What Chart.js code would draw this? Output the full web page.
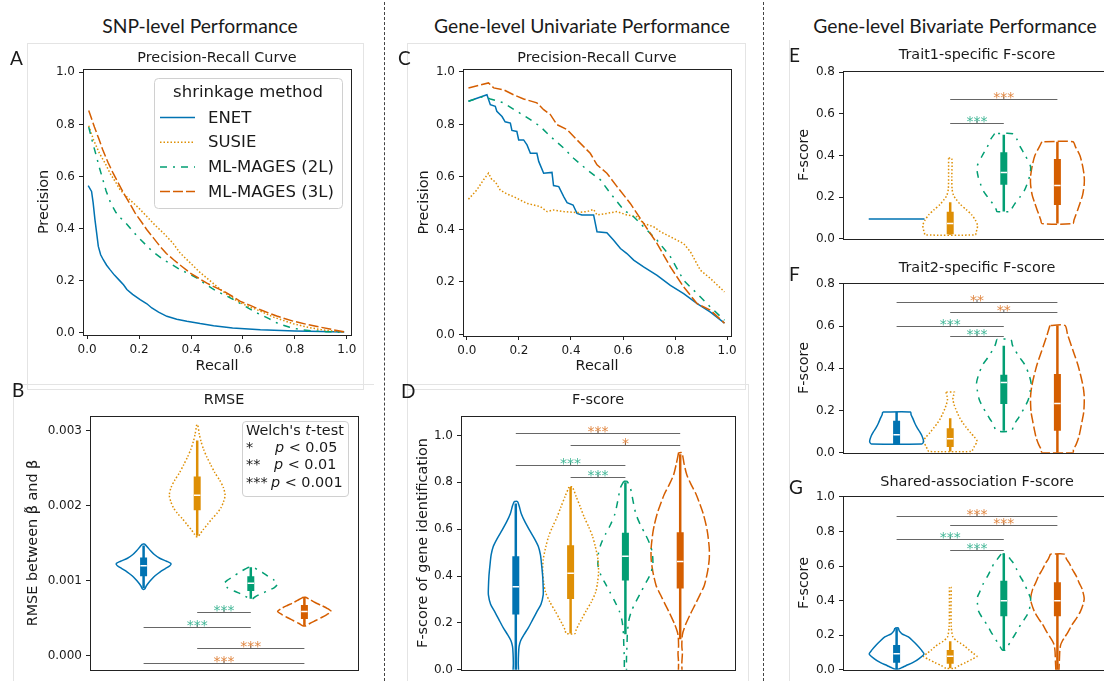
<!DOCTYPE html>
<html>
<head>
<meta charset="utf-8">
<script src="https://cdn.jsdelivr.net/npm/chart.js@4.4.1/dist/chart.umd.min.js"></script>
<style>
  body { margin: 0; width: 1104px; height: 681px; overflow: hidden; background: #fff; position: relative; font-family: 'DejaVu Sans', sans-serif; color: #1a1a1a; }
  canvas { position: absolute; }
  .t { position: absolute; white-space: nowrap; }
  .head { font-family: Lato, 'Open Sans', sans-serif; font-size: 19.3px; width: 400px; text-align: center; line-height: 26px; }
  .title { font-size: 14.4px; width: 300px; text-align: center; line-height: 18px; }
  .letter { font-family: Lato, 'Open Sans', sans-serif; font-size: 19px; line-height: 22px; }
  .sep { position: absolute; top: 2px; height: 679px; border-left: 1px dashed #444; }
  .frame { position: absolute; border: 1px solid #e4e4e4; }
  .leg { font-size: 14.4px; line-height: 17px; }
</style>
</head>
<body>

<div class="sep" style="left:384px"></div>
<div class="sep" style="left:763px"></div>

<div class="frame" style="left:27px;top:43px;width:335px;height:345px;"></div>
<div class="frame" style="left:13px;top:384px;width:360px;height:320px;border-right:none"></div>
<div class="frame" style="left:407px;top:43px;width:337px;height:345px;"></div>
<div class="frame" style="left:407px;top:384px;width:340px;height:320px;"></div>
<div class="frame" style="left:789px;top:40px;width:340px;height:660px;border-top:none"></div>

<div class="t head" style="left:0px;top:13px">SNP-level Performance</div>
<div class="t head" style="left:382px;top:13px">Gene-level Univariate Performance</div>
<div class="t head" style="left:755px;top:13px">Gene-level Bivariate Performance</div>

<canvas id="cA"></canvas>
<canvas id="cB"></canvas>
<canvas id="cC"></canvas>
<canvas id="cD"></canvas>
<canvas id="cE"></canvas>
<canvas id="cF"></canvas>
<canvas id="cG"></canvas>

<div class="t letter" style="left:10px;top:47px">A</div>
<div class="t letter" style="left:12px;top:379px">B</div>
<div class="t letter" style="left:398px;top:47px">C</div>
<div class="t letter" style="left:401px;top:380px">D</div>
<div class="t letter" style="left:789px;top:44px">E</div>
<div class="t letter" style="left:789px;top:263px">F</div>
<div class="t letter" style="left:789px;top:476px">G</div>

<div class="t title" style="left:67px;top:48px">Precision-Recall Curve</div>
<div class="t title" style="left:74px;top:390px">RMSE</div>
<div class="t title" style="left:447px;top:48px">Precision-Recall Curve</div>
<div class="t title" style="left:448px;top:390px">F-score</div>
<div class="t title" style="left:827px;top:45px">Trait1-specific F-score</div>
<div class="t title" style="left:827px;top:258px">Trait2-specific F-score</div>
<div class="t title" style="left:827px;top:472px">Shared-association F-score</div>

<div class="frame" style="left:242px;top:421px;width:105px;height:74px;border-color:#d0d0d0;border-radius:4px;background:rgba(255,255,255,0.8)"></div>
<div class="t leg" style="left:246px;top:422px">Welch's <i>t</i>-test</div>
<div class="t leg" style="left:246px;top:439px">*</div>
<div class="t leg" style="left:275px;top:439px"><i>p</i> &lt; 0.05</div>
<div class="t leg" style="left:246px;top:456px">**</div>
<div class="t leg" style="left:274px;top:456px"><i>p</i> &lt; 0.01</div>
<div class="t leg" style="left:246px;top:474px">***</div>
<div class="t leg" style="left:271px;top:474px"><i>p</i> &lt; 0.001</div>

<script>
// methods and styling
const methods = ['ENET', 'SUSIE', 'ML-MAGES (2L)', 'ML-MAGES (3L)'];
const legendTitle = 'shrinkage method';
const COLORS = ['#0173b2', '#de8f05', '#029e73', '#d55e00'];
const DASHES = [[], [1.5, 2], [7, 6, 2, 6], [10, 3]];
const STAR_COLORS = { g: 'rgba(2,158,115,0.75)', o: 'rgba(213,94,0,0.75)' };

// Panel A: SNP-level precision-recall
const snpEnetRecall = [0.004, 0.017, 0.023, 0.03, 0.037, 0.043, 0.052, 0.062, 0.075, 0.088, 0.105, 0.127, 0.14, 0.153, 0.175, 0.204, 0.23, 0.249, 0.275, 0.307, 0.345, 0.384, 0.435, 0.487, 0.56, 0.667, 0.8, 0.9, 0.99];
const snpEnetPrecision = [0.565, 0.543, 0.5, 0.435, 0.38, 0.332, 0.3, 0.281, 0.26, 0.243, 0.222, 0.199, 0.185, 0.167, 0.148, 0.128, 0.112, 0.096, 0.08, 0.064, 0.053, 0.045, 0.036, 0.028, 0.019, 0.012, 0.008, 0.006, 0.004];
const snpSusieRecall = [0.006, 0.025, 0.047, 0.07, 0.088, 0.11, 0.127, 0.15, 0.165, 0.2, 0.23, 0.26, 0.294, 0.33, 0.358, 0.4, 0.436, 0.48, 0.513, 0.55, 0.59, 0.63, 0.667, 0.72, 0.795, 0.85, 0.9, 0.95, 0.99];
const snpSusiePrecision = [0.795, 0.74, 0.69, 0.65, 0.613, 0.578, 0.549, 0.525, 0.511, 0.478, 0.447, 0.415, 0.383, 0.345, 0.307, 0.266, 0.231, 0.195, 0.167, 0.14, 0.116, 0.098, 0.084, 0.06, 0.035, 0.022, 0.013, 0.007, 0.003];
const snp2lRecall = [0.006, 0.021, 0.035, 0.047, 0.06, 0.073, 0.09, 0.111, 0.13, 0.153, 0.18, 0.211, 0.249, 0.294, 0.33, 0.358, 0.39, 0.423, 0.455, 0.487, 0.52, 0.551, 0.6, 0.654, 0.7, 0.74, 0.78, 0.82, 0.87, 0.92, 0.99];
const snp2lPrecision = [0.79, 0.731, 0.68, 0.635, 0.59, 0.545, 0.5, 0.462, 0.44, 0.417, 0.385, 0.353, 0.315, 0.281, 0.26, 0.243, 0.228, 0.211, 0.188, 0.167, 0.15, 0.135, 0.107, 0.077, 0.055, 0.034, 0.022, 0.013, 0.008, 0.005, 0.003];
const snp3lRecall = [0.006, 0.028, 0.045, 0.06, 0.08, 0.1, 0.12, 0.14, 0.165, 0.185, 0.21, 0.23, 0.255, 0.281, 0.305, 0.333, 0.365, 0.397, 0.43, 0.461, 0.5, 0.526, 0.56, 0.59, 0.63, 0.667, 0.73, 0.795, 0.85, 0.9, 0.95, 0.99];
const snp3lPrecision = [0.854, 0.79, 0.745, 0.703, 0.655, 0.613, 0.575, 0.537, 0.495, 0.46, 0.425, 0.396, 0.365, 0.332, 0.305, 0.281, 0.255, 0.23, 0.21, 0.191, 0.172, 0.16, 0.14, 0.121, 0.105, 0.089, 0.065, 0.045, 0.032, 0.022, 0.012, 0.005];

// Panel C: gene-level precision-recall
const geneEnetRecall = [0.006, 0.077, 0.09, 0.109, 0.115, 0.135, 0.147, 0.167, 0.173, 0.192, 0.199, 0.218, 0.231, 0.244, 0.269, 0.276, 0.295, 0.327, 0.333, 0.353, 0.372, 0.385, 0.408, 0.423, 0.442, 0.487, 0.5, 0.538, 0.564, 0.59, 0.615, 0.641, 0.679, 0.731, 0.782, 0.833, 0.885, 0.936, 0.99];
const geneEnetPrecision = [0.888, 0.913, 0.875, 0.869, 0.85, 0.83, 0.81, 0.805, 0.777, 0.773, 0.741, 0.741, 0.722, 0.69, 0.69, 0.659, 0.614, 0.617, 0.567, 0.563, 0.525, 0.502, 0.493, 0.461, 0.455, 0.455, 0.391, 0.387, 0.359, 0.327, 0.308, 0.283, 0.257, 0.225, 0.187, 0.155, 0.117, 0.085, 0.043];
const geneSusieRecall = [0.006, 0.038, 0.064, 0.083, 0.096, 0.109, 0.128, 0.154, 0.179, 0.205, 0.231, 0.256, 0.282, 0.308, 0.333, 0.372, 0.423, 0.462, 0.487, 0.5, 0.538, 0.577, 0.615, 0.654, 0.679, 0.718, 0.744, 0.782, 0.833, 0.859, 0.897, 0.936, 0.99];
const geneSusiePrecision = [0.515, 0.55, 0.589, 0.614, 0.589, 0.582, 0.55, 0.535, 0.525, 0.512, 0.499, 0.493, 0.487, 0.468, 0.474, 0.468, 0.464, 0.468, 0.476, 0.455, 0.461, 0.468, 0.455, 0.448, 0.423, 0.41, 0.391, 0.372, 0.346, 0.315, 0.245, 0.213, 0.162];
const gene2lRecall = [0.006, 0.064, 0.09, 0.141, 0.192, 0.244, 0.282, 0.321, 0.372, 0.41, 0.462, 0.513, 0.551, 0.603, 0.641, 0.679, 0.731, 0.782, 0.833, 0.885, 0.936, 0.99];
const gene2lPrecision = [0.888, 0.907, 0.897, 0.882, 0.85, 0.818, 0.792, 0.754, 0.71, 0.671, 0.627, 0.589, 0.538, 0.474, 0.448, 0.41, 0.359, 0.296, 0.206, 0.155, 0.104, 0.054];
const gene3lRecall = [0.006, 0.083, 0.103, 0.141, 0.179, 0.218, 0.269, 0.295, 0.321, 0.346, 0.385, 0.423, 0.474, 0.5, 0.538, 0.577, 0.628, 0.679, 0.731, 0.782, 0.833, 0.885, 0.936, 0.99];
const gene3lPrecision = [0.939, 0.958, 0.939, 0.932, 0.913, 0.897, 0.882, 0.856, 0.837, 0.799, 0.78, 0.741, 0.69, 0.646, 0.614, 0.563, 0.499, 0.423, 0.346, 0.257, 0.181, 0.117, 0.092, 0.043];

// Violin outlines: [value, half width] from top to bottom; stats: [whisker low, q1, median, q3, whisker high]
const rmseShapes = [
  [[0.00149, 0.02], [0.00145, 0.07], [0.00140, 0.13], [0.00135, 0.2], [0.00130, 0.3], [0.00126, 0.43], [0.00123, 0.51], [0.00120, 0.49], [0.00116, 0.4], [0.00112, 0.31], [0.00107, 0.22], [0.00102, 0.15], [0.00097, 0.09], [0.00093, 0.05], [0.00089, 0.02]],
  [[0.00308, 0.01], [0.00295, 0.04], [0.00286, 0.07], [0.00275, 0.12], [0.00265, 0.18], [0.00255, 0.25], [0.00244, 0.33], [0.00234, 0.42], [0.00224, 0.49], [0.00214, 0.52], [0.00205, 0.49], [0.00197, 0.44], [0.00190, 0.37], [0.00183, 0.28], [0.00175, 0.19], [0.00168, 0.11], [0.00162, 0.05], [0.00159, 0.02]],
  [[0.00118, 0.04], [0.00115, 0.12], [0.00111, 0.22], [0.00106, 0.32], [0.00101, 0.43], [0.00096, 0.5], [0.00091, 0.44], [0.00086, 0.3], [0.00082, 0.17], [0.00078, 0.07], [0.00076, 0.03]],
  [[0.00078, 0.02], [0.00075, 0.1], [0.00071, 0.2], [0.00067, 0.32], [0.00063, 0.43], [0.00059, 0.5], [0.00055, 0.42], [0.00051, 0.32], [0.00047, 0.21], [0.00043, 0.1], [0.00040, 0.03]]
];
const rmseStats = [
  [0.00090, 0.00106, 0.00120, 0.00131, 0.00147],
  [0.00160, 0.00194, 0.00214, 0.00239, 0.00287],
  [0.00076, 0.000864, 0.000966, 0.00106, 0.00118],
  [0.00040, 0.00049, 0.00059, 0.000678, 0.00078]
];
const rmseBrackets = [[2, 3, 0.000585, '***', 'g'], [1, 3, 0.00038, '***', 'g'], [2, 4, 0.000106, '***', 'o'], [1, 4, -0.000093, '***', 'o']];

const fscoreShapes = [
  [[0.718, 0.03], [0.70, 0.06], [0.666, 0.1], [0.63, 0.17], [0.596, 0.25], [0.56, 0.34], [0.527, 0.41], [0.49, 0.45], [0.45, 0.47], [0.40, 0.49], [0.35, 0.5], [0.32, 0.5], [0.28, 0.46], [0.25, 0.39], [0.215, 0.31], [0.18, 0.23], [0.15, 0.15], [0.125, 0.09], [0.10, 0.06], [0.07, 0.05], [0.03, 0.045], [-0.05, 0.045]],
  [[0.78, 0.03], [0.74, 0.1], [0.693, 0.18], [0.65, 0.25], [0.61, 0.33], [0.57, 0.4], [0.527, 0.45], [0.47, 0.5], [0.416, 0.51], [0.37, 0.49], [0.333, 0.46], [0.29, 0.38], [0.25, 0.28], [0.22, 0.21], [0.194, 0.15], [0.17, 0.1], [0.155, 0.08]],
  [[0.804, 0.03], [0.777, 0.09], [0.72, 0.14], [0.666, 0.19], [0.62, 0.27], [0.58, 0.36], [0.54, 0.44], [0.50, 0.49], [0.444, 0.5], [0.40, 0.44], [0.374, 0.38], [0.33, 0.28], [0.29, 0.19], [0.25, 0.11], [0.208, 0.06], [0.15, 0.035], [0.11, 0.03], [0.05, 0.02], [-0.05, 0.015]],
  [[0.926, 0.03], [0.88, 0.07], [0.832, 0.12], [0.79, 0.2], [0.749, 0.29], [0.70, 0.37], [0.666, 0.42], [0.62, 0.47], [0.583, 0.5], [0.52, 0.53], [0.472, 0.53], [0.42, 0.5], [0.36, 0.44], [0.32, 0.36], [0.277, 0.27], [0.24, 0.19], [0.194, 0.1], [0.16, 0.05], [0.139, 0.035], [0.10, 0.03], [0.07, 0.04], [0.03, 0.03], [-0.05, 0.03]]
];
const fscoreStats = [[-0.02, 0.236, 0.354, 0.485, 0.71], [0.155, 0.302, 0.412, 0.531, 0.78], [0.152, 0.381, 0.485, 0.585, 0.80], [0.13, 0.347, 0.462, 0.587, 0.92]];
const fscoreBrackets = [[1, 4, 1.012, '***', 'o'], [2, 4, 0.96, '*', 'o'], [1, 3, 0.874, '***', 'g'], [2, 3, 0.821, '***', 'g']];

const trait1Shapes = [
  [[0.095, 0.52]],
  [[0.387, 0.03], [0.30, 0.03], [0.24, 0.035], [0.21, 0.06], [0.19, 0.11], [0.165, 0.19], [0.14, 0.3], [0.115, 0.4], [0.09, 0.47], [0.065, 0.51], [0.045, 0.5], [0.03, 0.48], [0.019, 0.47]],
  [[0.505, 0.17], [0.48, 0.24], [0.44, 0.31], [0.40, 0.4], [0.346, 0.5], [0.30, 0.48], [0.26, 0.43], [0.23, 0.38], [0.20, 0.3], [0.17, 0.21], [0.14, 0.14], [0.131, 0.13]],
  [[0.466, 0.29], [0.44, 0.34], [0.40, 0.42], [0.35, 0.47], [0.30, 0.5], [0.26, 0.5], [0.21, 0.47], [0.17, 0.42], [0.14, 0.38], [0.112, 0.34], [0.09, 0.31], [0.073, 0.29]]
];
const trait1Stats = [null, [0.019, 0.022, 0.073, 0.13, 0.175], [0.131, 0.26, 0.319, 0.416, 0.50], [0.073, 0.162, 0.256, 0.383, 0.466]];
const trait1Brackets = [[2, 4, 0.67, '***', 'o'], [2, 3, 0.556, '***', 'g']];

const trait2Shapes = [
  [[0.193, 0.26], [0.18, 0.27], [0.164, 0.3], [0.14, 0.34], [0.12, 0.38], [0.10, 0.43], [0.082, 0.47], [0.06, 0.5], [0.05, 0.5], [0.042, 0.47]],
  [[0.287, 0.08], [0.27, 0.06], [0.254, 0.05], [0.23, 0.07], [0.209, 0.1], [0.185, 0.14], [0.164, 0.18], [0.14, 0.24], [0.12, 0.3], [0.095, 0.38], [0.075, 0.45], [0.055, 0.5], [0.03, 0.45], [0.015, 0.42], [0.006, 0.4]],
  [[0.537, 0.13], [0.51, 0.16], [0.49, 0.2], [0.45, 0.3], [0.418, 0.39], [0.37, 0.47], [0.328, 0.51], [0.29, 0.49], [0.254, 0.46], [0.22, 0.4], [0.194, 0.34], [0.16, 0.26], [0.134, 0.19], [0.104, 0.14]],
  [[0.603, 0.14], [0.56, 0.19], [0.522, 0.24], [0.47, 0.31], [0.418, 0.38], [0.36, 0.44], [0.313, 0.48], [0.27, 0.5], [0.231, 0.5], [0.19, 0.49], [0.149, 0.46], [0.11, 0.43], [0.075, 0.4], [0.04, 0.35], [0.015, 0.3], [0.0, 0.29]]
];
const trait2Stats = [[0.042, 0.042, 0.085, 0.152, 0.193], [0.006, 0.027, 0.066, 0.116, 0.164], [0.104, 0.231, 0.333, 0.369, 0.507], [0.0, 0.104, 0.234, 0.373, 0.603]];
const trait2Brackets = [[1, 4, 0.716, '**', 'o'], [2, 4, 0.669, '**', 'o'], [1, 3, 0.601, '***', 'g'], [2, 3, 0.555, '***', 'g']];

const sharedShapes = [
  [[0.242, 0.03], [0.225, 0.05], [0.208, 0.1], [0.19, 0.22], [0.165, 0.31], [0.143, 0.38], [0.115, 0.46], [0.091, 0.51], [0.065, 0.42], [0.041, 0.3], [0.025, 0.18], [0.013, 0.1], [0.004, 0.03]],
  [[0.478, 0.015], [0.35, 0.015], [0.25, 0.02], [0.19, 0.05], [0.165, 0.13], [0.152, 0.2], [0.135, 0.28], [0.115, 0.35], [0.095, 0.43], [0.078, 0.5], [0.06, 0.4], [0.041, 0.28], [0.025, 0.17], [0.009, 0.08]],
  [[0.669, 0.05], [0.64, 0.12], [0.617, 0.18], [0.58, 0.24], [0.543, 0.3], [0.50, 0.38], [0.45, 0.45], [0.413, 0.5], [0.38, 0.49], [0.338, 0.47], [0.30, 0.4], [0.264, 0.32], [0.22, 0.24], [0.19, 0.18], [0.16, 0.12], [0.134, 0.07], [0.115, 0.03]],
  [[0.669, 0.13], [0.64, 0.17], [0.617, 0.22], [0.58, 0.28], [0.543, 0.35], [0.50, 0.41], [0.468, 0.46], [0.413, 0.5], [0.38, 0.48], [0.338, 0.43], [0.30, 0.36], [0.264, 0.28], [0.22, 0.2], [0.19, 0.14], [0.165, 0.09], [0.143, 0.06], [0.11, 0.045], [0.078, 0.04], [0.04, 0.035], [0.004, 0.03], [-0.05, 0.03]]
];
const sharedStats = [[0.004, 0.041, 0.093, 0.143, 0.24], [0.009, 0.035, 0.078, 0.115, 0.165], [0.115, 0.31, 0.40, 0.515, 0.669], [-0.02, 0.31, 0.40, 0.506, 0.669]];
const sharedBrackets = [[1, 4, 0.892, '***', 'o'], [2, 4, 0.836, '***', 'o'], [1, 3, 0.755, '***', 'g'], [2, 3, 0.691, '***', 'g']];

Chart.defaults.font.family = "'DejaVu Sans', sans-serif";
Chart.defaults.font.size = 12;
Chart.defaults.color = '#1a1a1a';

// black box around the axes
const framePlugin = {
  id: 'frame',
  afterDatasetsDraw(chart) {
    const { ctx, chartArea: a } = chart;
    ctx.save();
    ctx.strokeStyle = '#222';
    ctx.lineWidth = 1;
    ctx.strokeRect(Math.round(a.left) + 0.5, Math.round(a.top) + 0.5, Math.round(a.right - a.left), Math.round(a.bottom - a.top));
    ctx.restore();
  }
};

function bracketPlugin(items) {
  return {
    id: 'brackets',
    afterDatasetsDraw(chart) {
      const { ctx, scales: { x, y } } = chart;
      ctx.save();
      items.forEach(([a, b, h, stars, c]) => {
        const x1 = x.getPixelForValue(a), x2 = x.getPixelForValue(b);
        const yy = Math.round(y.getPixelForValue(h)) + 0.5, xm = (x1 + x2) / 2;
        ctx.strokeStyle = '#666';
        ctx.lineWidth = 1;
        ctx.beginPath();
        ctx.moveTo(x1, yy); ctx.lineTo(x2, yy);
        ctx.moveTo(xm, yy); ctx.lineTo(xm, yy - 3);
        ctx.stroke();
        ctx.fillStyle = STAR_COLORS[c];
        ctx.font = "14px 'DejaVu Sans'";
        ctx.textAlign = 'center';
        ctx.textBaseline = 'alphabetic';
        ctx.fillText(stars, xm, yy + 2.5);
      });
      ctx.restore();
    }
  };
}

const legendPlugin = {
  id: 'legendA',
  afterDatasetsDraw(chart) {
    const ctx = chart.ctx;
    ctx.save();
    ctx.beginPath();
    ctx.roundRect(134.5, 33.5, 188, 130, 4);
    ctx.fillStyle = 'rgba(255,255,255,0.8)';
    ctx.fill();
    ctx.strokeStyle = '#d0d0d0';
    ctx.lineWidth = 1;
    ctx.stroke();
    ctx.fillStyle = '#1a1a1a';
    ctx.font = "16.5px 'DejaVu Sans'";
    ctx.textBaseline = 'middle';
    ctx.textAlign = 'center';
    ctx.fillText(legendTitle, 228, 48);
    ctx.textAlign = 'left';
    methods.forEach((m, i) => {
      const y = 72.5 + i * 24.7;
      ctx.strokeStyle = COLORS[i];
      ctx.setLineDash(DASHES[i]);
      ctx.lineWidth = 1.5;
      ctx.beginPath();
      ctx.moveTo(140, y); ctx.lineTo(175, y);
      ctx.stroke();
      ctx.setLineDash([]);
      ctx.fillText(m, 188, y + 1);
    });
    ctx.restore();
  }
};

function xAxis(g, cfg) {
  return {
    type: 'linear', min: cfg.min, max: cfg.max,
    afterFit: s => { s.height = g.box.t + g.box.h - g.plot.b; },
    border: { display: false },
    grid: { display: !!cfg.ticks, drawOnChartArea: false, drawTicks: true, tickLength: 4, color: '#222' },
    ticks: { display: !!cfg.ticks, stepSize: cfg.step, includeBounds: false, autoSkip: false, maxRotation: 0, padding: 4, callback: v => v.toFixed(cfg.dec) },
    title: { display: !!cfg.title, text: cfg.title, font: { size: 14.4 }, padding: { top: 0, bottom: cfg.titlePad || 0 } }
  };
}

function yAxis(g, cfg) {
  return {
    type: 'linear', min: cfg.min, max: cfg.max,
    afterFit: s => { s.width = g.plot.l - g.box.l; },
    border: { display: false },
    grid: { drawOnChartArea: false, drawTicks: true, tickLength: 4, color: '#222' },
    ticks: { stepSize: cfg.step, includeBounds: false, autoSkip: false, padding: 4, callback: v => v.toFixed(cfg.dec) },
    title: { display: true, text: cfg.title, font: { size: 14.4 }, padding: { top: cfg.titlePad, bottom: 0 } }
  };
}

function makeChart(id, g, datasets, scales, plugins) {
  const el = document.getElementById(id);
  el.width = g.box.w;
  el.height = g.box.h;
  el.style.left = g.box.l + 'px';
  el.style.top = g.box.t + 'px';
  return new Chart(el, {
    type: 'scatter',
    data: { datasets },
    options: {
      responsive: false,
      animation: false,
      devicePixelRatio: 1,
      layout: { autoPadding: false, padding: { top: g.plot.t - g.box.t, right: g.box.l + g.box.w - g.plot.r, left: 0, bottom: 0 } },
      plugins: { legend: { display: false }, tooltip: { enabled: false } },
      scales
    },
    plugins: [framePlugin].concat(plugins || [])
  });
}

function prDatasets(curves) {
  return curves.map(([rec, prec], i) => ({
    label: methods[i],
    data: rec.map((r, k) => ({ x: r, y: prec[k] })),
    showLine: true, pointRadius: 0, borderWidth: 1.5, tension: 0,
    borderColor: COLORS[i], borderDash: DASHES[i], order: 3 - i
  }));
}

function violinDatasets(shapes, stats) {
  const ds = [];
  shapes.forEach((shape, i) => {
    const pos = i + 1;
    const left = shape.map(([v, w]) => ({ x: pos - w, y: v }));
    const right = shape.map(([v, w]) => ({ x: pos + w, y: v })).reverse();
    ds.push({ label: methods[i], data: left.concat(right, [left[0]]), showLine: true, pointRadius: 0, borderWidth: 1.5, tension: 0.25, borderColor: COLORS[i], borderDash: DASHES[i], order: 30 });
    const s = stats[i];
    if (!s) return;
    const line = (pts, color, width, order) => ({ data: pts, showLine: true, pointRadius: 0, borderWidth: width, borderColor: color, borderCapStyle: 'butt', tension: 0, order });
    ds.push(line([{ x: pos, y: s[0] }, { x: pos, y: s[4] }], COLORS[i], 2.5, 20));
    ds.push(line([{ x: pos, y: s[1] }, { x: pos, y: s[3] }], COLORS[i], 7, 10));
    ds.push(line([{ x: pos - 0.06, y: s[2] }, { x: pos + 0.06, y: s[2] }], '#fff', 1.5, 0));
  });
  return ds;
}

// geometry (page pixels): canvas box and plot area
const gA = { box: { l: 20, t: 45, w: 345, h: 335 }, plot: { l: 83, t: 69, r: 351, b: 335 } };
const gB = { box: { l: 20, t: 405, w: 345, h: 276 }, plot: { l: 90, t: 411, r: 358, b: 677 } };
const gC = { box: { l: 400, t: 45, w: 345, h: 335 }, plot: { l: 463, t: 69, r: 731, b: 336 } };
const gD = { box: { l: 400, t: 405, w: 345, h: 276 }, plot: { l: 461, t: 410, r: 735, b: 670 } };
const gE = { box: { l: 780, t: 60, w: 340, h: 190 }, plot: { l: 843, t: 65, r: 1111, b: 245 } };
const gF = { box: { l: 780, t: 272, w: 340, h: 192 }, plot: { l: 843, t: 279, r: 1111, b: 458 } };
const gG = { box: { l: 780, t: 485, w: 340, h: 196 }, plot: { l: 843, t: 492, r: 1111, b: 672 } };

makeChart('cA', gA,
  prDatasets([[snpEnetRecall, snpEnetPrecision], [snpSusieRecall, snpSusiePrecision], [snp2lRecall, snp2lPrecision], [snp3lRecall, snp3lPrecision]]),
  {
    x: xAxis(gA, { min: -0.016, max: 1.016, ticks: true, step: 0.2, dec: 1, title: 'Recall', titlePad: 5 }),
    y: yAxis(gA, { min: -0.0077, max: 1.0128, step: 0.2, dec: 1, title: 'Precision', titlePad: 15.4 })
  }, [legendPlugin]);

makeChart('cC', gC,
  prDatasets([[geneEnetRecall, geneEnetPrecision], [geneSusieRecall, geneSusiePrecision], [gene2lRecall, gene2lPrecision], [gene3lRecall, gene3lPrecision]]),
  {
    x: xAxis(gC, { min: -0.015, max: 1.015, ticks: true, step: 0.2, dec: 1, title: 'Recall', titlePad: 5 }),
    y: yAxis(gC, { min: -0.006, max: 1.011, step: 0.2, dec: 1, title: 'Precision', titlePad: 15.4 })
  });

makeChart('cB', gB, violinDatasets(rmseShapes, rmseStats), {
  x: xAxis(gB, { min: 0, max: 5 }),
  y: yAxis(gB, { min: -0.000187, max: 0.003194, step: 0.001, dec: 3, title: 'RMSE between \u03b2\u0303 and \u03b2', titlePad: 4.9 })
}, [bracketPlugin(rmseBrackets)]);

makeChart('cD', gD, violinDatasets(fscoreShapes, fscoreStats), {
  x: xAxis(gD, { min: 0, max: 5 }),
  y: yAxis(gD, { min: 0, max: 1.082, step: 0.2, dec: 1, title: 'F-score of gene identification', titlePad: 14.4 })
}, [bracketPlugin(fscoreBrackets)]);

makeChart('cE', gE, violinDatasets(trait1Shapes, trait1Stats), {
  x: xAxis(gE, { min: 0, max: 5 }),
  y: yAxis(gE, { min: 0, max: 0.805, step: 0.2, dec: 1, title: 'F-score', titlePad: 15.4 })
}, [bracketPlugin(trait1Brackets)]);

makeChart('cF', gF, violinDatasets(trait2Shapes, trait2Stats), {
  x: xAxis(gF, { min: 0, max: 5 }),
  y: yAxis(gF, { min: 0, max: 0.803, step: 0.2, dec: 1, title: 'F-score', titlePad: 15.4 })
}, [bracketPlugin(trait2Brackets)]);

makeChart('cG', gG, violinDatasets(sharedShapes, sharedStats), {
  x: xAxis(gG, { min: 0, max: 5 }),
  y: yAxis(gG, { min: 0, max: 1.004, step: 0.2, dec: 1, title: 'F-score', titlePad: 15.4 })
}, [bracketPlugin(sharedBrackets)]);
</script>
</body>
</html>
